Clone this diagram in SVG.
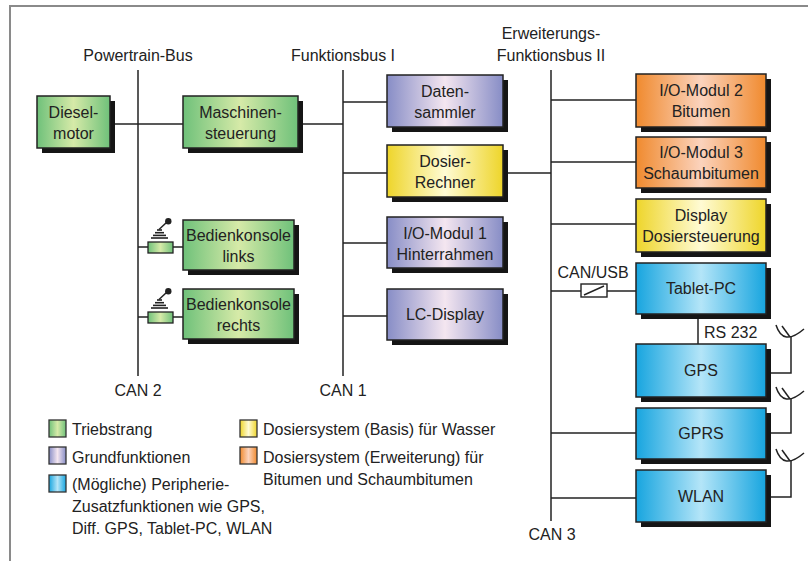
<svg xmlns="http://www.w3.org/2000/svg" width="808" height="561" viewBox="0 0 808 561">
<defs>
<linearGradient id="gG" x1="0" x2="1" y1="0" y2="0"><stop offset="0" stop-color="#6fc17a"/><stop offset="0.5" stop-color="#d6eaa8"/><stop offset="1" stop-color="#6fc17a"/></linearGradient>
<linearGradient id="gP" x1="0" x2="1" y1="0" y2="0"><stop offset="0" stop-color="#878dc6"/><stop offset="0.5" stop-color="#f4e6f0"/><stop offset="1" stop-color="#878dc6"/></linearGradient>
<linearGradient id="gY" x1="0" x2="1" y1="0" y2="0"><stop offset="0" stop-color="#eed52a"/><stop offset="0.5" stop-color="#fffbd4"/><stop offset="1" stop-color="#eed52a"/></linearGradient>
<linearGradient id="gO" x1="0" x2="1" y1="0" y2="0"><stop offset="0" stop-color="#f08a2e"/><stop offset="0.5" stop-color="#fbd3bd"/><stop offset="1" stop-color="#f08a2e"/></linearGradient>
<linearGradient id="gB" x1="0" x2="1" y1="0" y2="0"><stop offset="0" stop-color="#17a5df"/><stop offset="0.5" stop-color="#b4e5f8"/><stop offset="1" stop-color="#17a5df"/></linearGradient>
<g id="dish"><path d="M776,325 Q783,347 804,329" fill="none" stroke="#222" stroke-width="1.5"/><line x1="790" y1="337" x2="782" y2="326" stroke="#222" stroke-width="1.5"/></g>
<g id="joy">
<rect x="148" y="242" width="25" height="11" fill="url(#gG)" stroke="#222" stroke-width="1.3"/>
<g stroke="#222" stroke-width="1.6"><line x1="157" y1="230" x2="162" y2="230"/><line x1="155" y1="232.7" x2="164" y2="232.7"/><line x1="153" y1="235.4" x2="166" y2="235.4"/><line x1="151" y1="238" x2="168" y2="238"/></g>
<line x1="159" y1="229.5" x2="167" y2="222" stroke="#222" stroke-width="1.5"/>
<circle cx="168.3" cy="221.3" r="3.2" fill="#222"/>
</g>
</defs>
<style>
text{font-family:"Liberation Sans",Arial,sans-serif;font-size:16px;fill:#222}
.c{text-anchor:middle}
.ln{stroke:#222;stroke-width:1.5;fill:none}
.sh{fill:#151515}
.bx{stroke:#222;stroke-width:1.5}
.lg{stroke:#333;stroke-width:1.3}
</style>
<g id="frame"><path d="M10,561 V6 H808" fill="none" stroke="#8a8a8a" stroke-width="2"/></g>
<g id="bus-labels">
<text class="c" x="138" y="61">Powertrain-Bus</text>
<text class="c" x="343" y="61">Funktionsbus I</text>
<text class="c" x="551" y="39">Erweiterungs-</text>
<text class="c" x="551" y="61">Funktionsbus II</text>
<text class="c" x="138" y="396">CAN 2</text>
<text class="c" x="343" y="396">CAN 1</text>
<text class="c" x="552" y="540">CAN 3</text>
<text class="c" x="593" y="278">CAN/USB</text>
<text x="704" y="338">RS 232</text>
</g>
<g id="connectors">
<line class="ln" x1="138" y1="70" x2="138" y2="376"/>
<line class="ln" x1="343" y1="70" x2="343" y2="376"/>
<line class="ln" x1="551" y1="70" x2="551" y2="521"/>
<line class="ln" x1="110" y1="124" x2="183" y2="124"/>
<line class="ln" x1="298" y1="124" x2="343" y2="124"/>
<line class="ln" x1="138" y1="247" x2="183" y2="247"/>
<line class="ln" x1="138" y1="317" x2="183" y2="317"/>
<line class="ln" x1="343" y1="102" x2="387" y2="102"/>
<line class="ln" x1="343" y1="173" x2="387" y2="173"/>
<line class="ln" x1="503" y1="173" x2="551" y2="173"/>
<line class="ln" x1="343" y1="243" x2="387" y2="243"/>
<line class="ln" x1="343" y1="316" x2="387" y2="316"/>
<line class="ln" x1="551" y1="100" x2="636" y2="100"/>
<line class="ln" x1="551" y1="162" x2="636" y2="162"/>
<line class="ln" x1="551" y1="224" x2="636" y2="224"/>
<line class="ln" x1="551" y1="291" x2="636" y2="291"/>
<line class="ln" x1="551" y1="433" x2="636" y2="433"/>
<line class="ln" x1="551" y1="498" x2="636" y2="498"/>
<line class="ln" x1="698" y1="314" x2="698" y2="344"/>
<path class="ln" d="M766,373 H791 V337"/>
<path class="ln" d="M766,433 H791 V399"/>
<path class="ln" d="M766,497 H791 V461"/>
<use href="#dish"/>
<use href="#dish" transform="translate(0,62)"/>
<use href="#dish" transform="translate(0,124)"/>
<g id="canusb"><rect x="581" y="284" width="26" height="13" fill="#fff" stroke="#222" stroke-width="1.4"/><line x1="584" y1="295" x2="604" y2="286" stroke="#222" stroke-width="1.4"/></g>
<use href="#joy"/>
<use href="#joy" transform="translate(0,70)"/>
</g>
<g id="n-diesel"><rect class="sh" x="42" y="101" width="73" height="52"/><rect class="bx" x="37" y="96" width="73" height="52" fill="url(#gG)"/><text class="c" x="73.5" y="118">Diesel-</text><text class="c" x="73.5" y="139">motor</text></g>
<g id="n-maschinen"><rect class="sh" x="188" y="101" width="115" height="52"/><rect class="bx" x="183" y="96" width="115" height="52" fill="url(#gG)"/><text class="c" x="240.5" y="118">Maschinen-</text><text class="c" x="240.5" y="139">steuerung</text></g>
<g id="n-bed-links"><rect class="sh" x="188" y="225" width="111" height="50"/><rect class="bx" x="183" y="220" width="111" height="50" fill="url(#gG)"/><text class="c" x="238.5" y="241">Bedienkonsole</text><text class="c" x="238.5" y="262">links</text></g>
<g id="n-bed-rechts"><rect class="sh" x="188" y="294" width="111" height="50"/><rect class="bx" x="183" y="289" width="111" height="50" fill="url(#gG)"/><text class="c" x="238.5" y="310">Bedienkonsole</text><text class="c" x="238.5" y="331">rechts</text></g>
<g id="n-daten"><rect class="sh" x="392" y="80" width="116" height="52"/><rect class="bx" x="387" y="75" width="116" height="52" fill="url(#gP)"/><text class="c" x="445" y="97">Daten-</text><text class="c" x="445" y="118">sammler</text></g>
<g id="n-dosier"><rect class="sh" x="392" y="150" width="116" height="52"/><rect class="bx" x="387" y="145" width="116" height="52" fill="url(#gY)"/><text class="c" x="445" y="167">Dosier-</text><text class="c" x="445" y="188">Rechner</text></g>
<g id="n-io1"><rect class="sh" x="392" y="222" width="116" height="51"/><rect class="bx" x="387" y="217" width="116" height="51" fill="url(#gP)"/><text class="c" x="445" y="239">I/O-Modul 1</text><text class="c" x="445" y="260">Hinterrahmen</text></g>
<g id="n-lcd"><rect class="sh" x="392" y="294" width="116" height="51"/><rect class="bx" x="387" y="289" width="116" height="51" fill="url(#gP)"/><text class="c" x="445" y="320">LC-Display</text></g>
<g id="n-io2"><rect class="sh" x="641" y="79" width="130" height="53"/><rect class="bx" x="636" y="74" width="130" height="53" fill="url(#gO)"/><text class="c" x="701" y="96">I/O-Modul 2</text><text class="c" x="701" y="117">Bitumen</text></g>
<g id="n-io3"><rect class="sh" x="641" y="142" width="130" height="51"/><rect class="bx" x="636" y="137" width="130" height="51" fill="url(#gO)"/><text class="c" x="701" y="158">I/O-Modul 3</text><text class="c" x="701" y="179">Schaumbitumen</text></g>
<g id="n-display"><rect class="sh" x="641" y="204" width="130" height="53"/><rect class="bx" x="636" y="199" width="130" height="53" fill="url(#gY)"/><text class="c" x="701" y="221">Display</text><text class="c" x="701" y="242">Dosiersteuerung</text></g>
<g id="n-tablet"><rect class="sh" x="641" y="268" width="130" height="51"/><rect class="bx" x="636" y="263" width="130" height="51" fill="url(#gB)"/><text class="c" x="701" y="294">Tablet-PC</text></g>
<g id="n-gps"><rect class="sh" x="641" y="349" width="130" height="53"/><rect class="bx" x="636" y="344" width="130" height="53" fill="url(#gB)"/><text class="c" x="701" y="376">GPS</text></g>
<g id="n-gprs"><rect class="sh" x="641" y="413" width="130" height="51"/><rect class="bx" x="636" y="408" width="130" height="51" fill="url(#gB)"/><text class="c" x="701" y="439">GPRS</text></g>
<g id="n-wlan"><rect class="sh" x="641" y="475" width="130" height="52"/><rect class="bx" x="636" y="470" width="130" height="52" fill="url(#gB)"/><text class="c" x="701" y="502">WLAN</text></g>
<g id="legend">
<rect class="lg" x="49" y="420" width="17" height="17" fill="url(#gG)"/><text x="72" y="435">Triebstrang</text>
<rect class="lg" x="49" y="447" width="17" height="17" fill="url(#gP)"/><text x="72" y="463">Grundfunktionen</text>
<rect class="lg" x="49" y="475" width="17" height="17" fill="url(#gB)"/><text x="72" y="490">(Mögliche) Peripherie-</text>
<text x="72" y="512">Zusatzfunktionen wie GPS,</text>
<text x="72" y="534">Diff. GPS, Tablet-PC, WLAN</text>
<rect class="lg" x="240" y="420" width="17" height="17" fill="url(#gY)"/><text x="263" y="435">Dosiersystem (Basis) für Wasser</text>
<rect class="lg" x="240" y="447" width="17" height="17" fill="url(#gO)"/><text x="263" y="463">Dosiersystem (Erweiterung) für</text>
<text x="263" y="485">Bitumen und Schaumbitumen</text>
</g>
</svg>
